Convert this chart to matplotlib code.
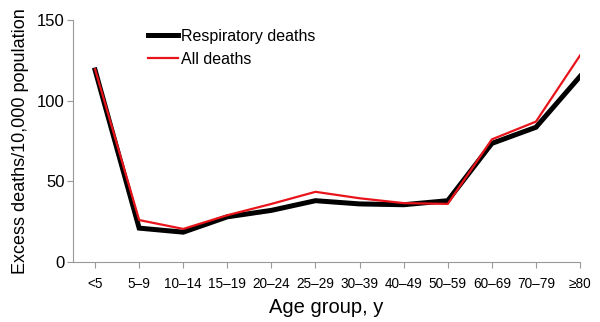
import matplotlib
matplotlib.use('Agg')
import matplotlib.pyplot as plt

plt.rcParams['font.family'] = ['Liberation Sans', 'DejaVu Sans']

# data
age_groups = ['<5', '5–9', '10–14', '15–19', '20–24', '25–29', '30–39',
              '40–49', '50–59', '60–69', '70–79', '≥80']
resp_deaths = [119, 21, 18.5, 28, 32, 38, 36, 35.5, 38, 73.5, 83.5, 115]
all_deaths = [119.5, 26, 20.5, 29, 36, 43.5, 39.5, 36.5, 36, 76, 87, 128]

fig = plt.figure(figsize=(6, 3.22), dpi=100)
ax = fig.add_axes([0.1217, 0.1863, 0.845, 0.7517])

x = range(len(age_groups))
ax.plot(x, resp_deaths, color='black', lw=3.6, label='Respiratory deaths',
        solid_joinstyle='miter')
ax.plot(x, all_deaths, color='#e8141b', lw=1.6, label='All deaths')

ax.set_xlim(-0.5, len(age_groups) - 1)
ax.set_ylim(0, 150)
ax.set_yticks([0, 50, 100, 150])
ax.set_xticks(list(x))
ax.set_xticklabels(age_groups, fontsize=9.8)
ax.tick_params(axis='y', labelsize=12, length=4, color='#999999', pad=2)
ax.tick_params(axis='x', length=4, color='#999999', pad=7)

for s in ['top', 'right']:
    ax.spines[s].set_visible(False)
for s in ['left', 'bottom']:
    ax.spines[s].set_color('#999999')
    ax.spines[s].set_linewidth(0.8)

ax.set_xlabel('Age group, y', fontsize=14.5, labelpad=5)
ax.set_ylabel('Excess deaths/10,000 population', fontsize=13, labelpad=6)

ax.legend(loc='upper left', bbox_to_anchor=(0.135, 0.99), frameon=False,
          fontsize=11.5, handlelength=1.9, handletextpad=0.2, labelspacing=0.5,
          borderaxespad=0)

fig.savefig('out.png', dpi=100)
